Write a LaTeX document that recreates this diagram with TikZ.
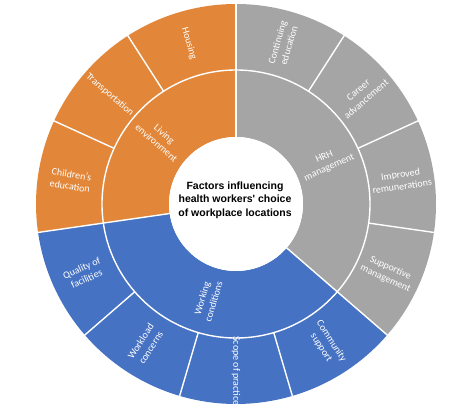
\documentclass[tikz,border=0pt]{standalone}
\usepackage{fontspec}
\setmainfont{Carlito}
\newfontfamily\ctrfont{Liberation Sans}[Ligatures=TeXOff]
\definecolor{orng}{RGB}{226,135,58}
\definecolor{gry}{RGB}{165,165,165}
\definecolor{blu}{RGB}{70,114,196}
\tikzset{
  seglabel/.style={text=white, align=center, font=\fontsize{10}{12}\selectfont, inner sep=0pt},
  sepline/.style={white, line width=1.4pt},
  ctrlabel/.style={align=center, font=\ctrfont\fontsize{10.5}{13.5}\selectfont\bfseries, inner sep=0pt}
}
\begin{document}
\begin{tikzpicture}[x=1pt,y=1pt]
\useasboundingbox (0,0) rectangle (474,-411);
\begin{scope}[shift={(236,-204)}]
\def\ri{67}\def\rm{134}\def\ro{200}
\pgfmathsetmacro\d{360/11}
% inner ring
\foreach \s/\e/\col in {0/3/orng, 3/7/blu, 7/11/gry}{
  \pgfmathsetmacro\a{90+\s*\d}
  \pgfmathsetmacro\b{90+\e*\d}
  \fill[\col] (\a:\ri) arc[start angle=\a, end angle=\b, radius=\ri] -- (\b:\rm) arc[start angle=\b, end angle=\a, radius=\rm] -- cycle;
}
% outer ring
\foreach \i/\col in {0/orng,1/orng,2/orng,3/blu,4/blu,5/blu,6/blu,7/gry,8/gry,9/gry,10/gry}{
  \pgfmathsetmacro\a{90+\i*\d}
  \pgfmathsetmacro\b{90+(\i+1)*\d}
  \fill[\col] (\a:\rm) arc[start angle=\a, end angle=\b, radius=\rm] -- (\b:\ro) arc[start angle=\b, end angle=\a, radius=\ro] -- cycle;
}
% separators
\draw[sepline] (0,0) circle[radius=\rm];
\foreach \i in {1,2,4,5,6,8,9,10}{
  \pgfmathsetmacro\a{90+\i*\d}
  \draw[sepline] (\a:\rm) -- (\a:\ro+1);
}
\foreach \i in {0,3,7}{
  \pgfmathsetmacro\a{90+\i*\d}
  \draw[sepline] (\a:\ri-1) -- (\a:\ro+1);
}
\fill[white] (0,0) circle[radius=\ri];
% outer labels
\foreach \i/\txt in {0/Housing, 1/Transportation, 2/{Children’s\\education}, 3/{Quality of\\facilities}, 4/{Workload\\concerns}, 5/{Scope of practice}, 6/{Community\\support}, 7/{Supportive\\management}, 8/{Improved\\remunerations}, 9/{Career\\advancement}, 10/{Continuing\\education}}{
  \pgfmathsetmacro\m{90+(\i+0.5)*\d}
  \pgfmathsetmacro\r{ifthenelse(\m<269.9,\m-180,\m)}
  \node[seglabel, rotate=\r] (o\i) at (\m:167) {\txt};
}
% inner labels
\foreach \n/\k/\txt in {liv/1.5/{Living\\environment}, wrk/5/{Working\\conditions}, hrh/9/{HRH\\management}}{
  \pgfmathsetmacro\m{90+\k*\d}
  \pgfmathsetmacro\r{ifthenelse(\m<269.9,\m-180,\m)}
  \node[seglabel, rotate=\r] (\n) at (\m:100) {\txt};
}
\node[ctrlabel] (ctr) at (-1,4) {Factors influencing\\health workers' choice\\of workplace locations};
\end{scope}
\end{tikzpicture}
\end{document}
